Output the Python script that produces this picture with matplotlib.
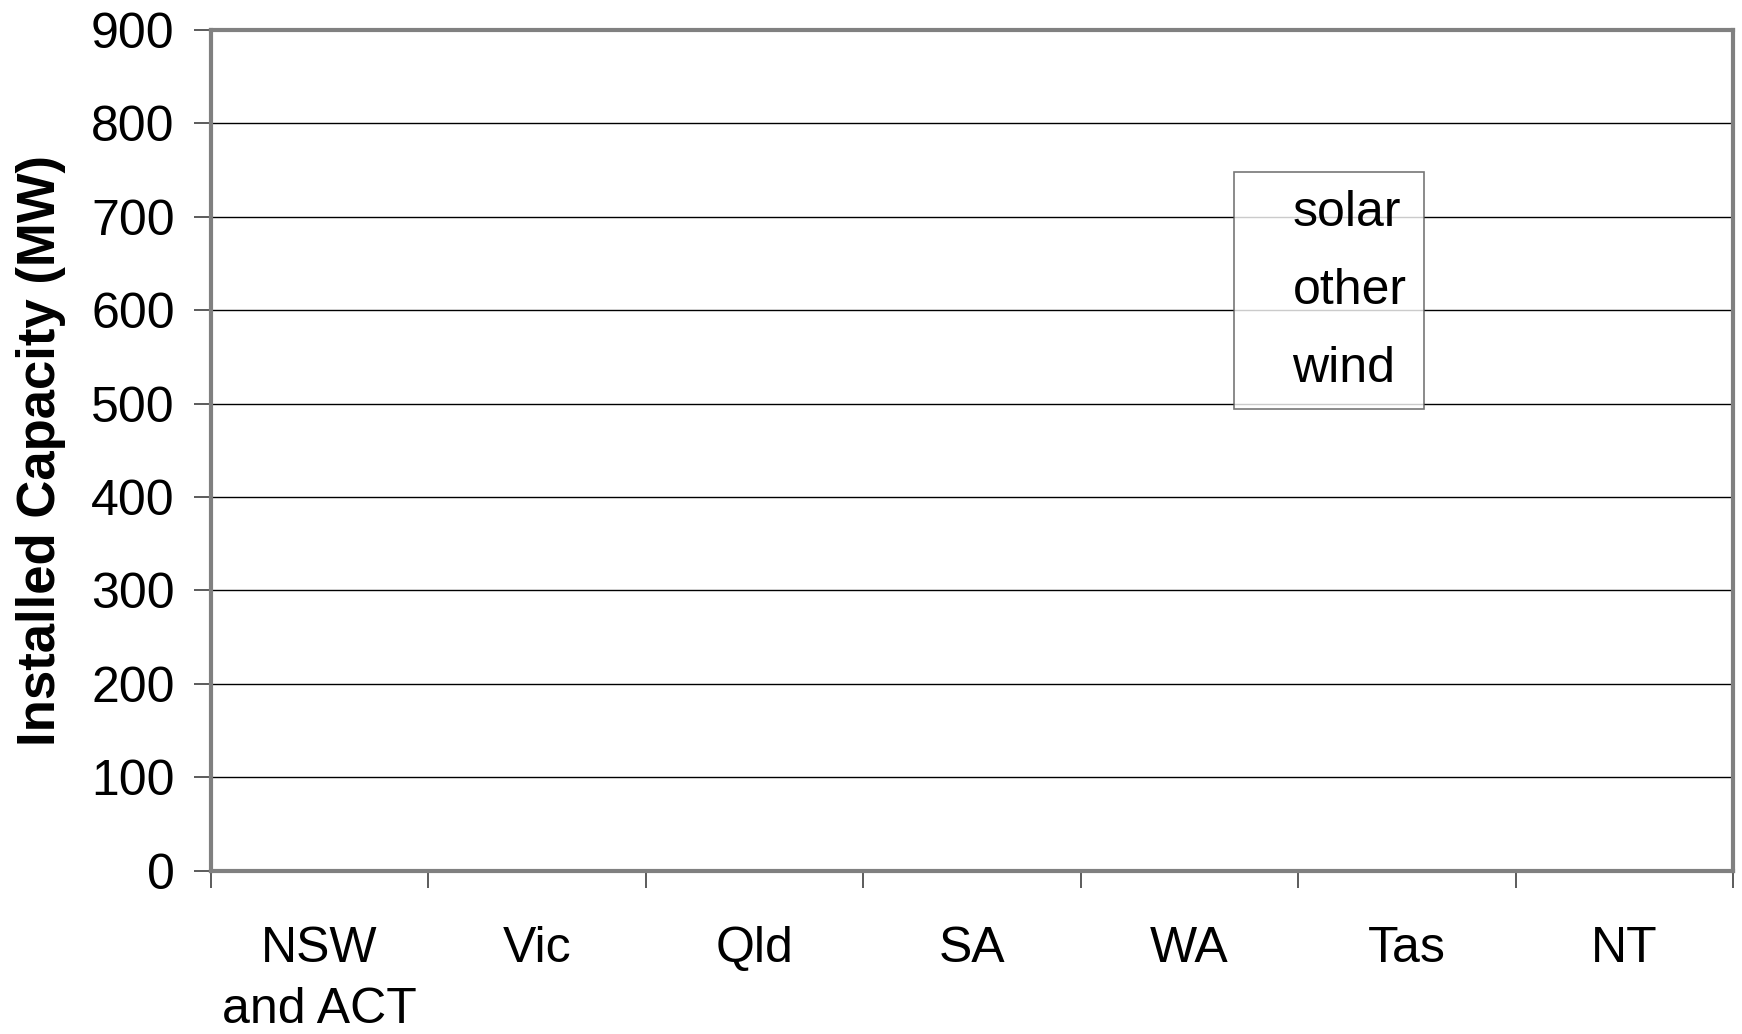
import matplotlib
matplotlib.use("Agg")
import matplotlib.pyplot as plt
from matplotlib.patches import Patch
import numpy as np

plt.rcParams['font.family'] = ['Liberation Sans', 'DejaVu Sans']

categories = ["NSW\nand ACT", "Vic", "Qld", "SA", "WA", "Tas", "NT"]
wind = [0, 0, 0, 0, 0, 0, 0]
other = [0, 0, 0, 0, 0, 0, 0]
solar = [0, 0, 0, 0, 0, 0, 0]
yticks = [0, 100, 200, 300, 400, 500, 600, 700, 800, 900]

fig = plt.figure(figsize=(17.42, 10.34), dpi=100)
ax = fig.add_axes([0.121, 0.158, 0.874, 0.813])

x = np.arange(len(categories))
ax.bar(x, wind, width=0.6, color='none', edgecolor='none', label='wind')
ax.bar(x, other, bottom=wind, width=0.6, color='none', edgecolor='none', label='other')
ax.bar(x, solar, bottom=np.add(wind, other), width=0.6, color='none', edgecolor='none', label='solar')

ax.set_xlim(-0.5, len(categories) - 0.5)
ax.set_ylim(0, 900)
ax.set_yticks(yticks)
ax.set_yticklabels([str(v) for v in yticks], fontsize=36)
ax.yaxis.grid(True, color='black', linewidth=1.0)
ax.set_axisbelow(True)

ax.set_xticks(x)
ax.set_xticklabels(categories, fontsize=36, linespacing=1.4)
ax.tick_params(axis='x', which='major', length=0, pad=40)
ax.set_xticks(np.arange(-0.5, len(categories)), minor=True)
ax.tick_params(axis='x', which='minor', length=12, width=1.2, color='#404040', direction='out')
ax.tick_params(axis='y', length=12, width=1.2, color='#404040', pad=14)

for s in ax.spines.values():
    s.set_color('#808080')
    s.set_linewidth(3)

ax.set_ylabel('Installed Capacity (MW)', fontsize=38, fontweight='bold', labelpad=18)

handles = [Patch(facecolor='none', edgecolor='none') for _ in range(3)]
leg = ax.legend(handles, ['solar', 'other', 'wind'], fontsize=36,
                loc='upper left', bbox_to_anchor=(0.672, 0.831),
                frameon=True, fancybox=False, handlelength=0.52, handletextpad=0.3,
                labelspacing=0.64, borderpad=0.35, borderaxespad=0)
leg.get_frame().set_edgecolor('#555555')
leg.get_frame().set_linewidth(1.2)

fig.savefig('out.png', dpi=100, facecolor='white')
